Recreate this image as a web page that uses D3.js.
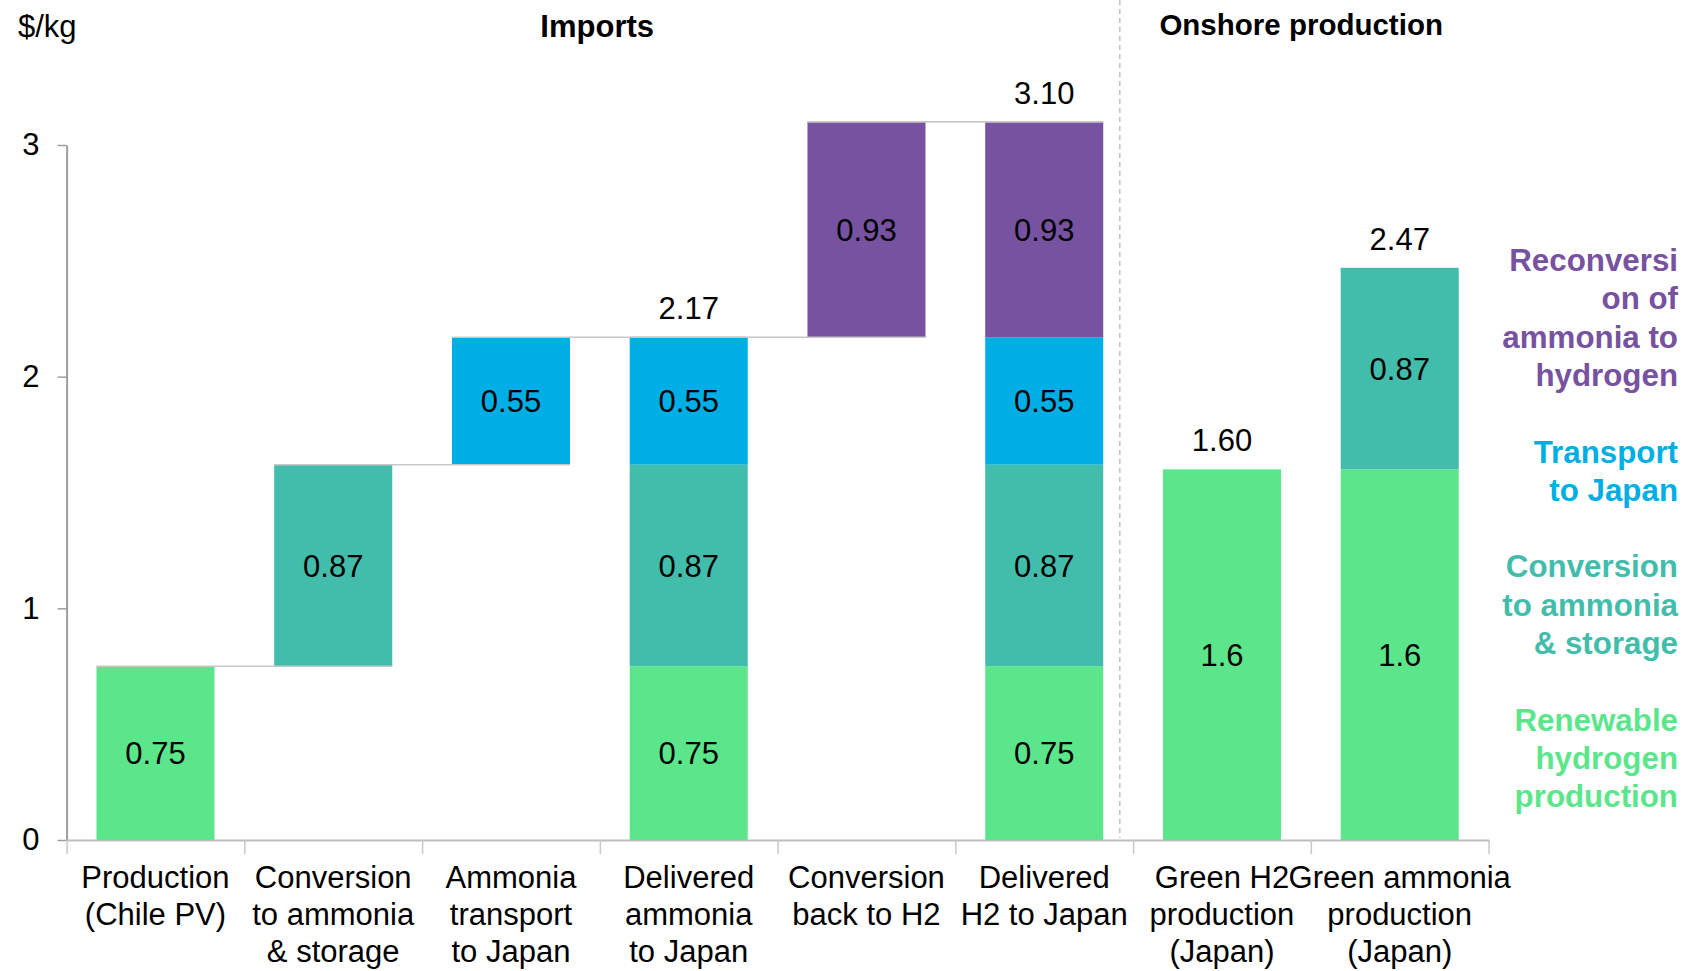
<!DOCTYPE html>
<html>
<head>
<meta charset="utf-8">
<script src="https://cdn.jsdelivr.net/npm/d3@7"></script>
<style>
  html, body { margin: 0; padding: 0; background: #fff; }
  svg { display: block; font-family: "Liberation Sans", Arial, sans-serif; }
</style>
</head>
<body>
<svg id="chart" width="1684" height="971"></svg>
<script>
// Cost build-up of delivered hydrogen, $/kg
const categories = [
  ["Production", "(Chile PV)"],
  ["Conversion", "to ammonia", "& storage"],
  ["Ammonia", "transport", "to Japan"],
  ["Delivered", "ammonia", "to Japan"],
  ["Conversion", "back to H2"],
  ["Delivered", "H2 to Japan"],
  ["Green H2", "production", "(Japan)"],
  ["Green ammonia", "production", "(Japan)"]
];
// "step" bars float on the running total, "total" bars stand on zero
const barKinds = ["step", "step", "step", "total", "step", "total", "total", "total"];
const groups = ["Imports", "Imports", "Imports", "Imports", "Imports", "Imports", "Onshore production", "Onshore production"];

const seriesNames = [
  "Renewable hydrogen production",
  "Conversion to ammonia & storage",
  "Transport to Japan",
  "Reconversion of ammonia to hydrogen"
];
const productionCost   = [0.75, 0,    0,    0.75, 0,    0.75, 1.6, 1.6];
const conversionCost   = [0,    0.87, 0,    0.87, 0,    0.87, 0,   0.87];
const transportCost    = [0,    0,    0.55, 0.55, 0,    0.55, 0,   0];
const reconversionCost = [0,    0,    0,    0,    0.93, 0.93, 0,   0];

const seriesColors = ["#5ce68b", "#43bdab", "#00aee6", "#7652a0"];
const legendLines = [
  ["Reconversi", "on of", "ammonia to", "hydrogen"],
  ["Transport", "to Japan"],
  ["Conversion", "to ammonia", "& storage"],
  ["Renewable", "hydrogen", "production"]
];
const legendColors = ["#7652a0", "#00aee6", "#43bdab", "#5ce68b"];
const yTicks = [0, 1, 2, 3];

// ---- layout ----
const svg = d3.select("#chart");
const left = 66.6, right = 1488.6, yZero = 840, yTop3 = 145;
const FONT = 31;

const x = d3.scaleBand().domain(d3.range(categories.length))
  .range([left, right]).paddingInner(0.336).paddingOuter(0.168);
const xEdges = d3.scaleLinear().domain([0, categories.length]).range([left, right]);
const y = d3.scaleLinear().domain([0, 3]).range([yZero, yTop3]);
const step = x.step();

// ---- build stacked segments with waterfall bases ----
const seriesValues = [productionCost, conversionCost, transportCost, reconversionCost];
let running = 0;
const bars = categories.map((c, i) => {
  const total = d3.sum(seriesValues, s => s[i]);
  const base = barKinds[i] === "step" ? running : 0;
  if (barKinds[i] === "step") running += total;
  let acc = base;
  const segs = [];
  seriesValues.forEach((s, k) => {
    if (s[i] > 0) {
      segs.push({ i, k, v: s[i], y0: acc, y1: acc + s[i] });
      acc += s[i];
    }
  });
  return { i, base, top: base + total, total, kind: barKinds[i], segs };
});

// ---- section divider & headers ----
const dividerX = xEdges(6) - 0.075 * step;
svg.append("line")
  .attr("x1", dividerX).attr("x2", dividerX)
  .attr("y1", 0).attr("y2", yZero - 2)
  .attr("stroke", "#c4c4c4").attr("stroke-width", 1.6)
  .attr("stroke-dasharray", "5,4");

svg.append("text").attr("x", 18).attr("y", 37)
  .attr("font-size", FONT).attr("fill", "#000").text("$/kg");

const importsCenter = (left + dividerX) / 2;
const onshoreCenter = (dividerX + right) / 2;
svg.append("text").attr("x", importsCenter + 4).attr("y", 37)
  .attr("text-anchor", "middle").attr("font-size", 31).attr("font-weight", "bold")
  .text(groups[0]);
svg.append("text").attr("x", onshoreCenter - 3).attr("y", 35)
  .attr("text-anchor", "middle").attr("font-size", 29.5).attr("font-weight", "bold")
  .text(groups[6]);

// ---- axes ----
const yAxis = svg.append("g").attr("transform", `translate(${left},0)`)
  .call(d3.axisLeft(y).tickValues(yTicks).tickFormat(d3.format("d"))
    .tickSize(9).tickSizeOuter(0).tickPadding(18));
yAxis.select(".domain").attr("stroke", "#9e9e9e").attr("stroke-width", 2);
yAxis.selectAll(".tick line").attr("stroke", "#9e9e9e").attr("stroke-width", 1.5);
yAxis.selectAll(".tick text").attr("font-size", FONT).attr("fill", "#000")
  .attr("font-family", "Liberation Sans, Arial, sans-serif");

const xAxis = svg.append("g").attr("transform", `translate(0,${yZero})`)
  .call(d3.axisBottom(xEdges).tickValues(d3.range(categories.length + 1))
    .tickFormat("").tickSize(14).tickSizeOuter(0));
xAxis.select(".domain").attr("stroke", "#bdbdbd").attr("stroke-width", 2);
xAxis.selectAll(".tick line").attr("stroke", "#c8c8c8").attr("stroke-width", 1.5);

// category labels
const catLabels = svg.append("g").selectAll("text").data(categories).join("text")
  .attr("text-anchor", "middle").attr("font-size", FONT).attr("fill", "#000")
  .attr("x", (d, i) => x(i) + x.bandwidth() / 2)
  .attr("y", yZero + 48);
catLabels.selectAll("tspan").data(d => d).join("tspan")
  .attr("x", function () { return d3.select(this.parentNode).attr("x"); })
  .attr("dy", (d, j) => j === 0 ? 0 : 37)
  .text(d => d);

// ---- bars ----
const allSegs = bars.flatMap(b => b.segs);
svg.append("g").selectAll("rect").data(allSegs).join("rect")
  .attr("x", d => x(d.i))
  .attr("width", x.bandwidth())
  .attr("y", d => y(d.y1))
  .attr("height", d => y(d.y0) - y(d.y1))
  .attr("fill", d => seriesColors[d.k]);

// connectors along the import chain
const chain = bars.filter(b => groups[b.i] === "Imports");
const connectors = chain.slice(0, -1).map(b => ({
  x1: x(b.i), x2: x(b.i + 1) + x.bandwidth(), v: b.top
}));
svg.append("g").selectAll("line").data(connectors).join("line")
  .attr("x1", d => d.x1).attr("x2", d => d.x2)
  .attr("y1", d => y(d.v)).attr("y2", d => y(d.v))
  .attr("stroke", "#c8c8c8").attr("stroke-width", 1.6);

// segment value labels
svg.append("g").selectAll("text").data(allSegs).join("text")
  .attr("x", d => x(d.i) + x.bandwidth() / 2)
  .attr("y", d => y((d.y0 + d.y1) / 2))
  .attr("dy", "0.36em")
  .attr("text-anchor", "middle").attr("font-size", FONT).attr("fill", "#000")
  .text(d => String(d.v));

// totals above the total bars
svg.append("g").selectAll("text").data(bars.filter(b => b.kind === "total" && (b.segs.length > 1 || groups[b.i] !== "Imports")))
  .join("text")
  .attr("x", d => x(d.i) + x.bandwidth() / 2)
  .attr("y", d => y(d.top) - 18)
  .attr("text-anchor", "middle").attr("font-size", FONT).attr("fill", "#000")
  .text(d => d.total.toFixed(2));

// ---- legend ----
const legend = svg.append("text").attr("text-anchor", "end")
  .attr("font-size", 31.3).attr("font-weight", "bold");
let lineNo = 0;
const legendRows = [];
legendLines.forEach((lines, g) => {
  lines.forEach(t => { legendRows.push({ t, g, n: lineNo }); lineNo++; });
  lineNo++; // blank line between entries
});
legend.selectAll("tspan").data(legendRows).join("tspan")
  .attr("x", 1678)
  .attr("y", d => 271 + d.n * 38.3)
  .attr("fill", d => legendColors[d.g])
  .text(d => d.t);
</script>
</body>
</html>
